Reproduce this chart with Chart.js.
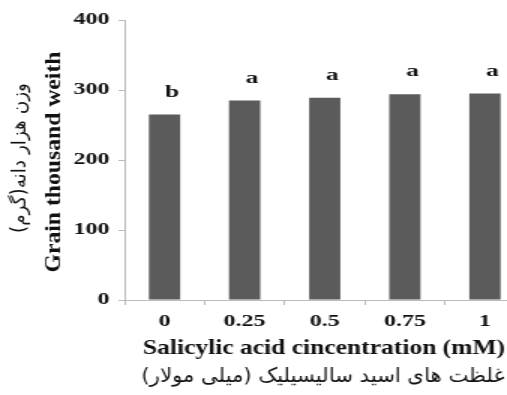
<!DOCTYPE html>
<html>
<head>
<meta charset="utf-8">
<title>Grain thousand weight</title>
<script src="https://cdn.jsdelivr.net/npm/chart.js@4.4.1/dist/chart.umd.min.js"></script>
<style>
    html, body { margin: 0; padding: 0; background: #fff; overflow: hidden; }
    body { width: 507px; height: 395px; }
    #wrap { width: 353px; height: 395px; transform: scaleX(1.5); transform-origin: 0 0; }
</style>
</head>
<body>
<div id="wrap"><canvas id="grainChart" width="353" height="395"></canvas></div>
<script>
// Data
const concentrations = ['0', '0.25', '0.5', '0.75', '1'];
const grainWeight = [265, 285, 289, 294, 295];
const groupLetters = ['b', 'a', 'a', 'a', 'a'];
const yTicks = [0, 100, 200, 300, 400];

const xTitle = 'Salicylic acid cincentration (mM)';
const xTitleFa = 'غلظت های اسید سالیسیلیک (میلی مولار)';
const yTitle = 'Grain thousand weith';
const yTitleFa = 'وزن هزار دانه(گرم)';

// the source picture is stretched sideways, so the canvas is widened with css
const STRETCH = 1.5;
const SERIF = '"Liberation Serif", "Times New Roman", serif';
const ARABIC = '"DejaVu Sans", sans-serif';

// draw text squeezed/widened to a given width
function fitText(ctx, text, x, y, width) {
    const w = ctx.measureText(text).width;
    ctx.save();
    ctx.translate(x, y);
    ctx.scale(width / w, 1);
    ctx.fillText(text, 0, 0);
    ctx.restore();
}

const extras = {
    id: 'extras',
    afterDatasetsDraw(chart) {
        const ctx = chart.ctx;
        ctx.save();
        ctx.fillStyle = '#111';
        ctx.textAlign = 'center';
        ctx.textBaseline = 'alphabetic';

        // significance letters above the bars (stretched like the ticks)
        ctx.font = 'bold 17px ' + SERIF;
        chart.getDatasetMeta(0).data.forEach((bar, i) => {
            ctx.fillText(groupLetters[i], bar.x + 5, bar.y - 18);
        });

        ctx.scale(1 / STRETCH, 1);   // screen pixels from here

        // x axis titles
        ctx.font = 'bold 21px ' + SERIF;
        fitText(ctx, xTitle, 324, 354, 362);
        ctx.direction = 'rtl';
        ctx.font = '20px ' + ARABIC;
        fitText(ctx, xTitleFa, 323, 382, 363);

        // y axis titles
        ctx.textBaseline = 'middle';
        ctx.save();
        ctx.translate(55, 162);
        ctx.rotate(-Math.PI / 2);
        ctx.direction = 'ltr';
        ctx.font = 'bold 22px ' + SERIF;
        fitText(ctx, yTitle, 0, 0, 221);
        ctx.restore();

        ctx.save();
        ctx.translate(21, 158);
        ctx.rotate(-Math.PI / 2);
        ctx.direction = 'rtl';
        ctx.font = '20px ' + ARABIC;
        fitText(ctx, yTitleFa, 0, 0, 150);
        ctx.restore();

        ctx.restore();
    }
};

const ctx = document.getElementById('grainChart').getContext('2d');
const grainChart = new Chart(ctx, {
    type: 'bar',
    data: {
        labels: concentrations,
        datasets: [
            {
                data: grainWeight,
                backgroundColor: '#5b5b5b',
                barPercentage: 0.39,
                categoryPercentage: 1,
            },
        ],
    },
    options: {
        responsive: false,
        animation: false,
        layout: {
            padding: { top: 20, right: 3, left: 0, bottom: 0 },
        },
        plugins: {
            legend: { display: false },
            tooltip: { enabled: false },
        },
        scales: {
            x: {
                grid: { drawOnChartArea: false, tickLength: 5, color: '#bbb', offset: true },
                border: { color: '#bbb' },
                ticks: {
                    color: '#111',
                    font: { family: SERIF, size: 16, weight: 'bold' },
                    padding: 7,
                    maxRotation: 0,
                },
                afterFit(scale) { scale.height = 95; },
            },
            y: {
                min: yTicks[0],
                max: yTicks[yTicks.length - 1],
                grid: { drawOnChartArea: false, tickLength: 4, color: '#bbb' },
                border: { color: '#bbb' },
                ticks: {
                    stepSize: yTicks[1] - yTicks[0],
                    color: '#111',
                    font: { family: SERIF, size: 16, weight: 'bold' },
                    padding: 6,
                },
                afterFit(scale) { scale.width = 83; },
            },
        },
    },
    plugins: [extras],
});
</script>
</body>
</html>
